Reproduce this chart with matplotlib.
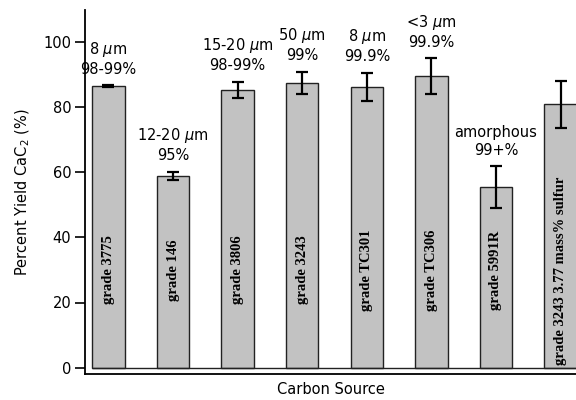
import numpy as np
import matplotlib.pyplot as plt

# rendimiento de CaC2 segun la fuente de carbono
fuentes = ['grade 3775', 'grade 146', 'grade 3806', 'grade 3243', 'grade TC301',
           'grade TC306', 'grade 5991R', 'grade 3243 3.77 mass% sulfur']
rendimiento = [86.5, 58.9, 85.4, 87.5, 86.3, 89.7, 55.5, 81.0]
error = [0.3, 1.3, 2.5, 3.5, 4.4, 5.4, 6.5, 7.3]
tamano = ['8 $\\mu$m', '12-20 $\\mu$m', '15-20 $\\mu$m', '50 $\\mu$m',
          '8 $\\mu$m', '<3 $\\mu$m', 'amorphous', '']
pureza = ['98-99%', '95%', '98-99%', '99%', '99.9%', '99.9%', '99+%', '']

x = np.arange(len(fuentes))
ancho = 0.5

fig = plt.figure(figsize=(5.76, 4), dpi=100)
ax = fig.add_axes([0.148, 0.065, 0.852, 0.91])

ax.bar(x, rendimiento, width=ancho, color='#c2c2c2', edgecolor='#222222',
       linewidth=1.0, zorder=2)
ax.errorbar(x, rendimiento, yerr=error, fmt='none', ecolor='black',
            elinewidth=1.6, capsize=4, capthick=1.6, zorder=3)
# linea base bajo las barras
ax.hlines(0, x[0] - ancho / 2, 7.3, color='#222222', linewidth=1.0, zorder=2)

for i in range(len(fuentes)):
    # etiqueta vertical dentro de la barra
    if len(fuentes[i]) > 15:
        ax.text(x[i], 0.8, fuentes[i], rotation=90, ha='center', va='bottom',
                family='Liberation Serif', fontweight='bold', fontsize=10.5, zorder=4)
    else:
        ax.text(x[i], 30, fuentes[i], rotation=90, ha='center', va='center',
                family='Liberation Serif', fontweight='bold', fontsize=10.5, zorder=4)
    # tamano de particula y pureza sobre la barra
    if tamano[i]:
        ax.text(x[i], rendimiento[i] + error[i] + 2.6, tamano[i] + '\n' + pureza[i],
                ha='center', va='bottom', fontsize=10.5, linespacing=1.25)

ax.set_xlim(-0.36, 7.24)
ax.set_ylim(-2, 110)
ax.set_yticks([0, 20, 40, 60, 80, 100])
ax.set_xticks([])
ax.tick_params(axis='y', length=7, width=1.2, labelsize=10.5, pad=3)
ax.spines['top'].set_visible(False)
ax.spines['right'].set_visible(False)
ax.spines['left'].set_linewidth(1.3)
ax.spines['bottom'].set_linewidth(1.3)

ax.set_ylabel('Percent Yield CaC$_2$ (%)', fontsize=10.5, labelpad=8)
ax.set_xlabel('Carbon Source', fontsize=10.5, labelpad=6)

fig.savefig('out.png', dpi=100)
